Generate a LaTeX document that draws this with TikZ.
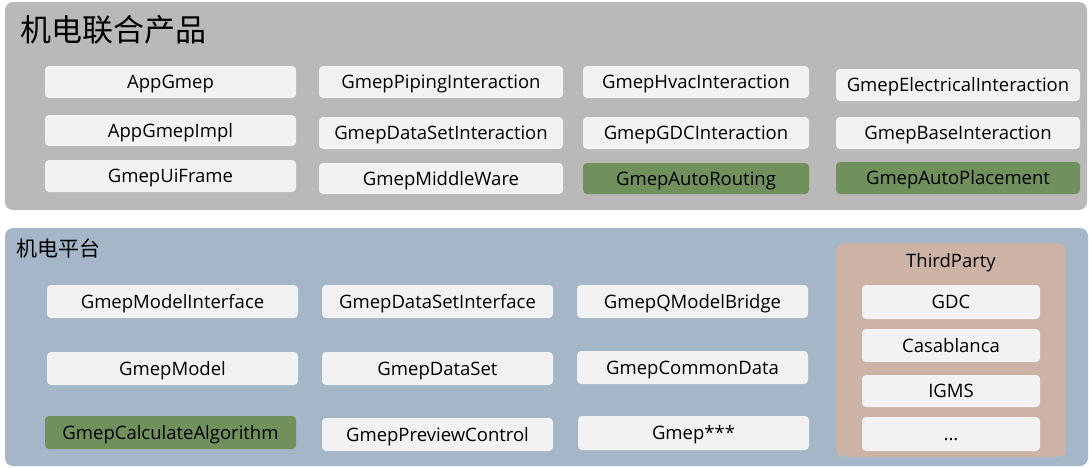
\documentclass[tikz,border=0pt]{standalone}
\usepackage{fontspec}
\setmainfont{Open Sans}
\newfontfamily\cjk{Noto Sans CJK SC}
\usepackage{tikz}
\usepackage{xcolor}
\definecolor{productgray}{HTML}{BAB9B7}
\definecolor{platformblue}{HTML}{A4B6C8}
\definecolor{thirdbrown}{HTML}{CDB3A5}
\definecolor{modulewhite}{HTML}{F2F2F2}
\definecolor{keygreen}{HTML}{70905C}
\tikzset{panel/.style = {shape=rectangle,rounded corners=8pt,inner sep=0pt}}
\tikzset{module/.style = {shape=rectangle,rounded corners=4pt,fill=modulewhite,inner sep=0pt,
    font=\fontsize{18.5}{20}\selectfont,text height=13.2pt,text depth=0pt}}
\tikzset{keymodule/.style = {module,fill=keygreen}}

\begin{document}
\begin{tikzpicture}[x=1pt,y=-1pt]
                \useasboundingbox (0,0) rectangle (1089,467);

                % panels
                \node[panel,fill=productgray,minimum width=1082pt,minimum height=208pt] (product) at (546,106) {};
                \node[panel,fill=platformblue,minimum width=1083pt,minimum height=238pt] (platform) at (546.5,347) {};
                \node[panel,fill=thirdbrown,minimum width=230pt,minimum height=214pt] (thirdparty) at (951,350) {};

                \node[anchor=west,inner sep=0pt,font=\cjk\fontsize{31}{34}\selectfont] (producttitle) at (20,30) {机电联合产品};
                \node[anchor=west,inner sep=0pt,font=\cjk\fontsize{21}{24}\selectfont] (platformtitle) at (16,248) {机电平台};
                \node[inner sep=0pt,font=\fontsize{18.5}{20}\selectfont,text height=13.2pt,text depth=0pt] (thirdtitle) at (951,261) {ThirdParty};

                % 机电联合产品
                \node[module,minimum width=251pt,minimum height=32pt] (appgmep) at (170.5,82) {AppGmep};
                \node[module,minimum width=251pt,minimum height=31pt] (appgmepimpl) at (170.5,130.5) {AppGmepImpl};
                \node[module,minimum width=251pt,minimum height=32pt] (uiframe) at (170.5,176) {GmepUiFrame};

                \node[module,minimum width=244pt,minimum height=32pt] (piping) at (441,82) {GmepPipingInteraction};
                \node[module,minimum width=244pt,minimum height=32pt] (datasetinter) at (441,133) {GmepDataSetInteraction};
                \node[module,minimum width=244pt,minimum height=31pt] (middleware) at (441,178.5) {GmepMiddleWare};

                \node[module,minimum width=226pt,minimum height=32pt] (hvac) at (696,82) {GmepHvacInteraction};
                \node[module,minimum width=226pt,minimum height=32pt] (gdcinter) at (696,133) {GmepGDCInteraction};
                \node[keymodule,minimum width=226pt,minimum height=31pt] (autorouting) at (696,178.5) {GmepAutoRouting};

                \node[module,minimum width=244pt,minimum height=32pt] (electrical) at (958,85) {GmepElectricalInteraction};
                \node[module,minimum width=244pt,minimum height=32pt] (baseinter) at (958,133) {GmepBaseInteraction};
                \node[keymodule,minimum width=244pt,minimum height=32pt] (autoplacement) at (958,178) {GmepAutoPlacement};

                % 机电平台
                \node[module,minimum width=251pt,minimum height=33pt] (modelinterface) at (172.5,301.5) {GmepModelInterface};
                \node[module,minimum width=251pt,minimum height=33pt] (model) at (172.5,368.5) {GmepModel};
                \node[keymodule,minimum width=251pt,minimum height=33pt] (calcalgorithm) at (170.5,432.5) {GmepCalculateAlgorithm};

                \node[module,minimum width=231pt,minimum height=33pt] (datasetinterface) at (437.5,301.5) {GmepDataSetInterface};
                \node[module,minimum width=231pt,minimum height=33pt] (dataset) at (437.5,368.5) {GmepDataSet};
                \node[module,minimum width=231pt,minimum height=33pt] (previewcontrol) at (437.5,434.5) {GmepPreviewControl};

                \node[module,minimum width=231pt,minimum height=33pt] (qmodelbridge) at (692.5,301.5) {GmepQModelBridge};
                \node[module,minimum width=231pt,minimum height=33pt] (commondata) at (692.5,367.5) {GmepCommonData};
                \node[module,minimum width=231pt,minimum height=34pt] (gmepmore) at (693.5,433) {Gmep***};

                % ThirdParty
                \node[module,minimum width=178pt,minimum height=34pt] (gdc) at (951,302) {GDC};
                \node[module,minimum width=178pt,minimum height=33pt] (casablanca) at (951,345.5) {Casablanca};
                \node[module,minimum width=178pt,minimum height=32pt] (igms) at (951,391) {IGMS};
                \node[module,minimum width=178pt,minimum height=34pt] (thirdmore) at (951,434) {...};
            \end{tikzpicture}
\end{document}
